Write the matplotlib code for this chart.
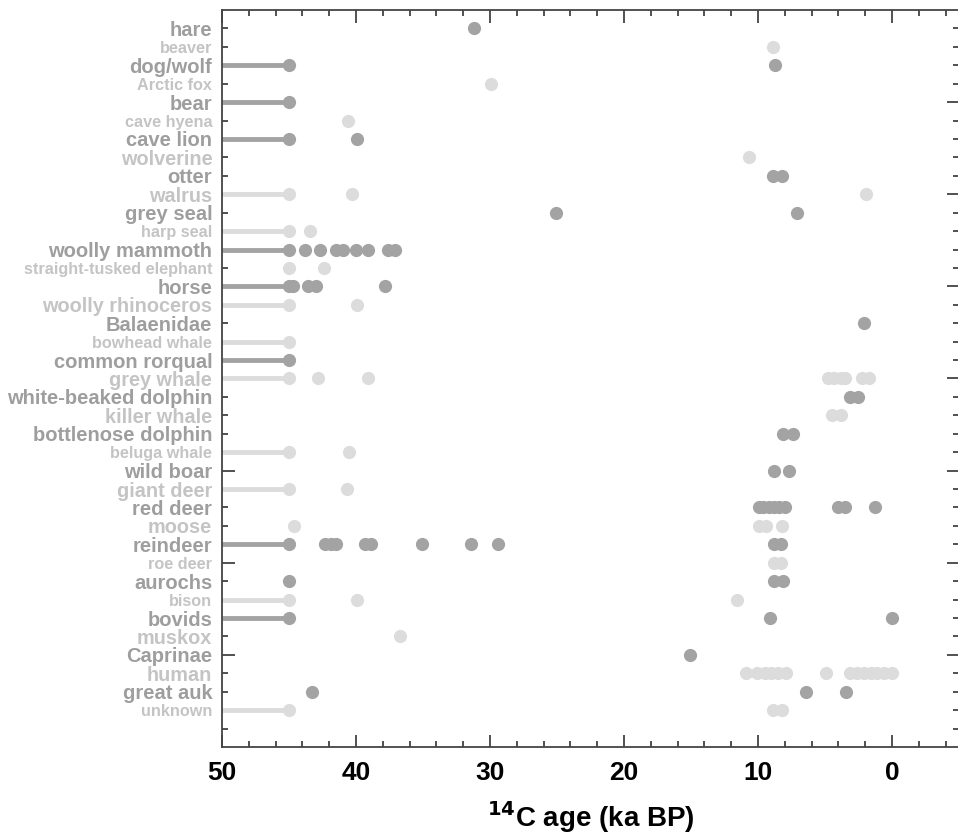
import matplotlib
matplotlib.use("Agg")
import matplotlib.pyplot as plt
import numpy as np

plt.rcParams['font.family'] = ['Liberation Sans', 'DejaVu Sans']

# taxa, top to bottom
taxa = ["hare", "beaver", "dog/wolf", "Arctic fox", "bear", "cave hyena",
        "cave lion", "wolverine", "otter", "walrus", "grey seal", "harp seal",
        "woolly mammoth", "straight-tusked elephant", "horse",
        "woolly rhinoceros", "Balaenidae", "bowhead whale", "common rorqual",
        "grey whale", "white-beaked dolphin", "killer whale",
        "bottlenose dolphin", "beluga whale", "wild boar", "giant deer",
        "red deer", "moose", "reindeer", "roe deer", "aurochs", "bison",
        "bovids", "muskox", "Caprinae", "human", "great auk", "unknown"]

# 14C ages (ka BP); 45 = beyond dating limit
ages = [
    [31.2],
    [8.9],
    [45, 8.7],
    [29.9],
    [45],
    [40.6],
    [45, 39.9],
    [10.7],
    [8.9, 8.2],
    [45, 40.3, 1.9],
    [25.1, 7.1],
    [45, 43.4],
    [45, 43.8, 42.7, 41.5, 41.0, 40.0, 39.1, 37.6, 37.1],
    [45, 42.4],
    [45, 44.7, 43.6, 43.0, 37.8],
    [45, 39.9],
    [2.1],
    [45],
    [45],
    [45, 42.8, 39.1, 4.8, 4.3, 3.8, 3.5, 2.2, 1.7],
    [3.1, 2.5],
    [4.5, 3.8],
    [8.1, 7.4],
    [45, 40.5],
    [8.8, 7.7],
    [45, 40.7],
    [9.9, 9.6, 9.2, 8.8, 8.4, 8.0, 4.0, 3.5, 1.3],
    [44.6, 9.9, 9.4, 8.2],
    [45, 42.3, 41.9, 41.5, 39.3, 38.9, 35.1, 31.4, 29.4, 8.8, 8.3],
    [8.8, 8.3],
    [45, 8.8, 8.1],
    [45, 39.9, 11.6],
    [45, 9.1, 0.0],
    [36.7],
    [15.1],
    [10.9, 10.1, 9.5, 9.0, 8.5, 7.9, 4.9, 3.1, 2.6, 2.1, 1.6, 1.1, 0.6, 0.0],
    [43.3, 6.4, 3.4],
    [45, 8.9, 8.2],
]

# taxa with dates beyond the limit (drawn as a bar to the axis edge)
beyond = ["dog/wolf", "bear", "cave lion", "walrus", "harp seal",
          "woolly mammoth", "horse", "woolly rhinoceros", "bowhead whale",
          "common rorqual", "grey whale", "beluga whale", "giant deer",
          "reindeer", "bison", "bovids", "unknown"]
limit_age = 45
x_max, x_min = 50, -5

# light-row labels that are printed in the smaller size
small_labels = ["beaver", "Arctic fox", "cave hyena", "harp seal",
                "straight-tusked elephant", "bowhead whale", "beluga whale",
                "roe deer", "bison", "unknown"]

dark_dot, light_dot = "#a3a3a3", "#dcdcdc"
dark_txt, light_txt = "#9e9e9e", "#c4c4c4"

fig = plt.figure(figsize=(9.58, 8.38), dpi=100)
ax = fig.add_axes([0.2317, 0.1086, 0.7693, 0.8795])

for i, (name, vals) in enumerate(zip(taxa, ages)):
    c = dark_dot if i % 2 == 0 else light_dot
    if name in beyond:
        ax.plot([x_max, limit_age], [i, i], color=c, lw=3.5,
                solid_capstyle='butt', zorder=2)
    ax.plot(vals, [i] * len(vals), 'o', color=c, ms=9.5, mec='none', zorder=3)

ax.set_xlim(x_max, x_min)
ax.set_ylim(len(taxa) + 1, -1)

ax.set_xticks(np.arange(50, -1, -10))
ax.set_xticks(np.arange(50, -5, -2), minor=True)
ax.tick_params(axis='x', which='both', direction='in', top=True, bottom=True,
               color='#333333', width=1.2)
ax.tick_params(axis='x', which='major', length=9, pad=10, labelsize=19)
ax.tick_params(axis='x', which='minor', length=4)
for lab in ax.get_xticklabels():
    lab.set_fontweight('bold')

ax.set_yticks(range(len(taxa) + 1))
ax.set_yticklabels(taxa + [""])
ax.tick_params(axis='y', direction='in', left=True, right=True,
               color='#333333', width=1.2, length=4.5, pad=7)
for i, t in enumerate(ax.yaxis.get_major_ticks()):
    if i % 5 == 4:
        t.tick1line.set_markersize(9)
        t.tick2line.set_markersize(9)
for i, lab in enumerate(ax.get_yticklabels()[:len(taxa)]):
    lab.set_fontweight('bold')
    if i % 2 == 0:
        lab.set_color(dark_txt)
        lab.set_fontsize(14.5)
    else:
        lab.set_color(light_txt)
        lab.set_fontsize(11.7 if taxa[i] in small_labels else 14.3)

for s in ax.spines.values():
    s.set_color('#444444')
    s.set_linewidth(1.3)

ax.set_xlabel(r"$^{\mathbf{14}}$C age (ka BP)", fontsize=20, fontweight='bold',
              labelpad=10)

fig.savefig("out.png", dpi=100)
